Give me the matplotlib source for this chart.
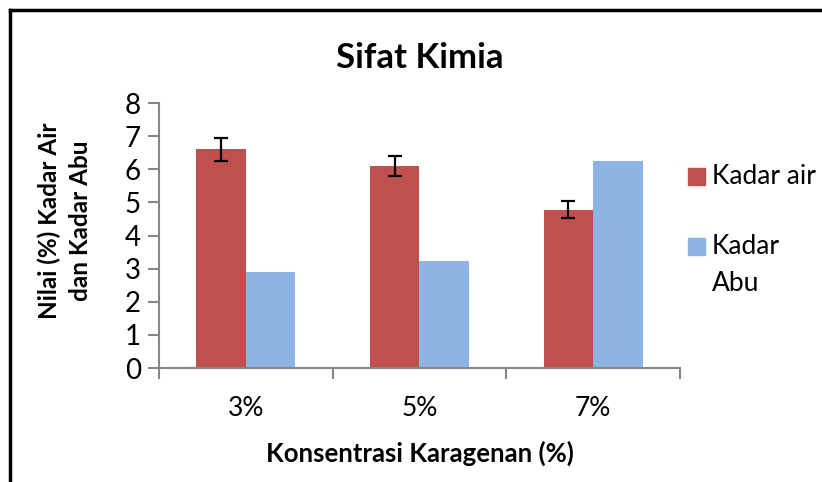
import numpy as np
import matplotlib.pyplot as plt
from matplotlib.lines import Line2D
from matplotlib.patches import Rectangle

plt.rcParams['font.family'] = ['Lato', 'DejaVu Sans']

# data
categories = ['3%', '5%', '7%']
kadar_air = [6.6, 6.1, 4.78]
kadar_air_err = [0.34, 0.31, 0.25]
kadar_abu = [2.9, 3.22, 6.26]
series_names = ['Kadar air', 'Kadar\nAbu']

red = '#C0504D'
blue = '#8EB4E3'
axis_grey = '#868686'

fig = plt.figure(figsize=(8.22, 4.82), dpi=100)
ax = fig.add_axes([0.1934, 0.2365, 0.6338, 0.5498])

x = np.arange(len(categories))
w = 0.285
ax.bar(x - w / 2, kadar_air, w, color=red,
       yerr=kadar_air_err, error_kw=dict(ecolor='black', elinewidth=1.6, capsize=5, capthick=1.6))
ax.bar(x + w / 2, kadar_abu, w, color=blue)

ax.set_xlim(-0.5, 2.5)
ax.set_ylim(0, 8)
ax.set_yticks(range(0, 9))
ax.set_xticks(x)
ax.set_xticklabels(categories)
# tick marks at category boundaries
ax.set_xticks([-0.5, 0.5, 1.5, 2.5], minor=True)
ax.tick_params(axis='x', which='major', length=0, pad=20, labelsize=19)
ax.tick_params(axis='x', which='minor', length=8, width=1.5, color=axis_grey, direction='out')
ax.tick_params(axis='y', length=8, width=1.5, color=axis_grey, labelsize=20, pad=5)

for s in ['top', 'right']:
    ax.spines[s].set_visible(False)
for s in ['left', 'bottom']:
    ax.spines[s].set_color(axis_grey)
    ax.spines[s].set_linewidth(1.5)

ax.set_title('Sifat Kimia', fontsize=25, fontweight='bold', pad=25)
ax.set_xlabel('Konsentrasi Karagenan (%)', fontsize=18.5, fontweight='bold', labelpad=14)
ax.set_ylabel('Nilai (%) Kadar Air\ndan Kadar Abu', fontsize=17.5, fontweight='bold',
              linespacing=1.45)
ax.yaxis.set_label_coords(-0.128, 0.555)

# legend, Excel style: square handle aligned with the first text line
W, H = 822, 482
leg_y = [176, 246]
for name, col, yc in zip(series_names, [red, blue], leg_y):
    fig.add_artist(Rectangle((688 / W, 1 - (yc + 8.5) / H), 17 / W, 17 / H,
                             transform=fig.transFigure, color=col))
    fig.text(712 / W, 1 - (yc - 12) / H, name, fontsize=19, va='top', ha='left',
             linespacing=1.6)

# chart border (only top and left visible in the crop)
fig.add_artist(Line2D([0.0122, 1.0], [0.98, 0.98], color='black', lw=2.5, transform=fig.transFigure))
fig.add_artist(Line2D([0.0122, 0.0122], [0.0, 0.98], color='black', lw=2.5, transform=fig.transFigure))

fig.savefig('out.png', dpi=100)
